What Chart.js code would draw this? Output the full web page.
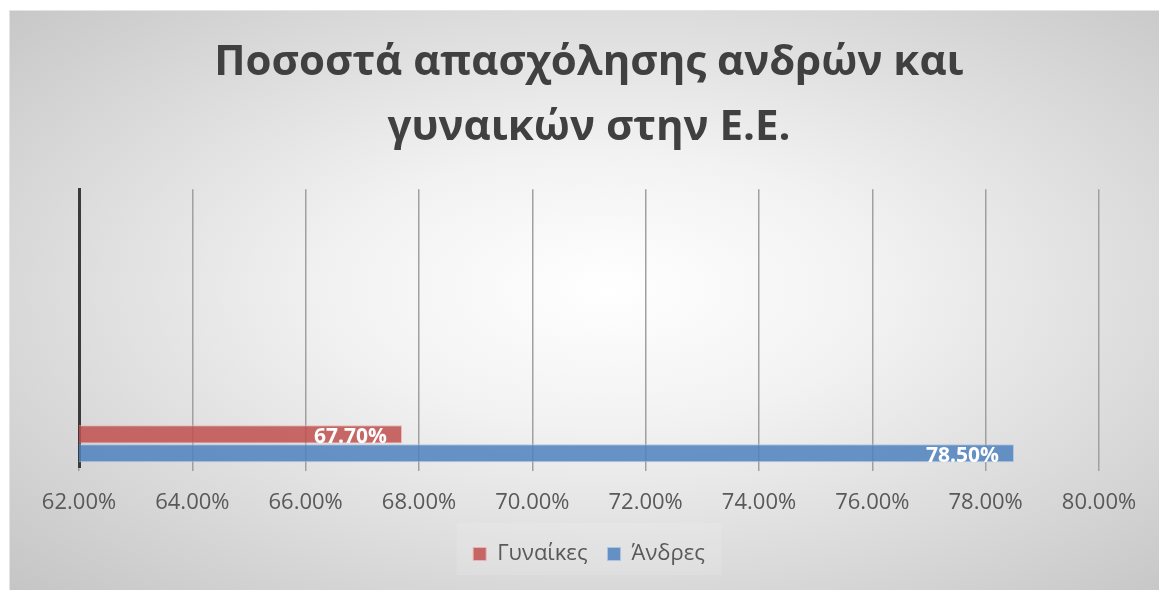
<!DOCTYPE html>
<html>
<head>
<meta charset="utf-8">
<title>Απασχόληση ΕΕ</title>
<script src="https://cdn.jsdelivr.net/npm/chart.js@4.4.0/dist/chart.umd.min.js"></script>
<style>
    html, body { margin: 0; background: #fff; overflow: hidden; }
    #panel {
        position: absolute; left: 9px; top: 10px; width: 1150px; height: 580px;
        box-sizing: border-box;
        background: radial-gradient(ellipse farthest-corner at 52% 48%, #ffffff 0%, #f2f2f2 32%, #c5c5c5 100%);
        border-top: 1px solid #e4e4e4; border-left: 1px solid #e4e4e4;
    }
</style>
</head>
<body>
<div id="panel"><canvas id="grafima"></canvas></div>
<script>
var titlos = ['Ποσοστά απασχόλησης ανδρών και', 'γυναικών στην Ε.Ε.'];
// η κατηγορία με τα δεδομένα κάθεται στο κάτω μέρος, οι υπόλοιπες μένουν άδειες
var kathgories = ['', '', '', '', '', 'Ε.Ε.'];
var gynaikes = [null, null, null, null, null, 67.7];
var andres = [null, null, null, null, null, 78.5];
var xMin = 62, xMax = 80, xBima = 2;

Chart.defaults.font.family = '"Open Sans", sans-serif';

// λευκές ετικέτες τιμών μέσα στο τέλος κάθε μπάρας
var etiketes = {
    id: 'etiketes',
    afterDatasetsDraw: function(chart) {
        var ctx = chart.ctx;
        ctx.save();
        ctx.font = 'bold 21px "Open Sans"';
        ctx.fillStyle = '#ffffff';
        ctx.textAlign = 'right';
        ctx.textBaseline = 'middle';
        chart.data.datasets.forEach(function(ds, i) {
            chart.getDatasetMeta(i).data.forEach(function(bar, j) {
                var v = ds.data[j];
                if (v == null) return;
                ctx.fillText(v.toFixed(2) + '%', bar.x - 15, bar.y + 3);
            });
        });
        ctx.restore();
    }
};

// αχνό πλαίσιο πίσω από το υπόμνημα
var plaisioLegend = {
    id: 'plaisioLegend',
    beforeDraw: function(chart) {
        var l = chart.legend;
        if (!l) return;
        var ctx = chart.ctx;
        ctx.save();
        ctx.fillStyle = 'rgba(255,255,255,0.12)';
        var w = 265;
        ctx.fillRect((l.left + l.right) / 2 - w / 2, l.top, w, l.height);
        ctx.restore();
    }
};

new Chart(document.getElementById('grafima'), {
    type: 'bar',
    data: {
        labels: kathgories,
        datasets: [{
            label: 'Γυναίκες',
            data: gynaikes,
            backgroundColor: 'rgba(192, 80, 77, 0.85)',
            borderColor: 'rgba(235, 180, 178, 0.9)',
            borderWidth: 1
        }, {
            label: 'Άνδρες',
            data: andres,
            backgroundColor: 'rgba(79, 129, 189, 0.85)',
            borderColor: 'rgba(170, 196, 228, 0.9)',
            borderWidth: 1
        }]
    },
    options: {
        indexAxis: 'y',
        responsive: true,
        maintainAspectRatio: false,
        animation: false,
        categoryPercentage: 0.82,
        barPercentage: 0.95,
        layout: { padding: { left: 69, right: 60, top: 0, bottom: 15 } },
        scales: {
            x: {
                min: xMin,
                max: xMax,
                ticks: {
                    stepSize: xBima,
                    padding: 19,
                    color: '#595959',
                    font: { size: 22 },
                    callback: function(v) { return v.toFixed(2) + '%'; }
                },
                grid: { color: '#a0a0a0', lineWidth: 1.5, tickLength: 4 },
                border: { display: false },
                afterFit: function(s) { s.height = 56; }
            },
            y: {
                ticks: { display: false },
                grid: { display: false, drawTicks: false },
                border: { color: '#3a3a3a', width: 3 },
                afterFit: function(s) { s.width = 0; }
            }
        },
        plugins: {
            title: {
                display: true,
                text: titlos,
                color: '#404040',
                font: { size: 42, weight: 'bold', lineHeight: 1.55 },
                padding: { top: 19, bottom: 29 }
            },
            legend: {
                position: 'bottom',
                labels: {
                    boxWidth: 13,
                    boxHeight: 13,
                    padding: 20,
                    color: '#595959',
                    font: { size: 22 }
                }
            },
            tooltip: { enabled: false }
        }
    },
    plugins: [plaisioLegend, etiketes]
});
</script>
</body>
</html>
